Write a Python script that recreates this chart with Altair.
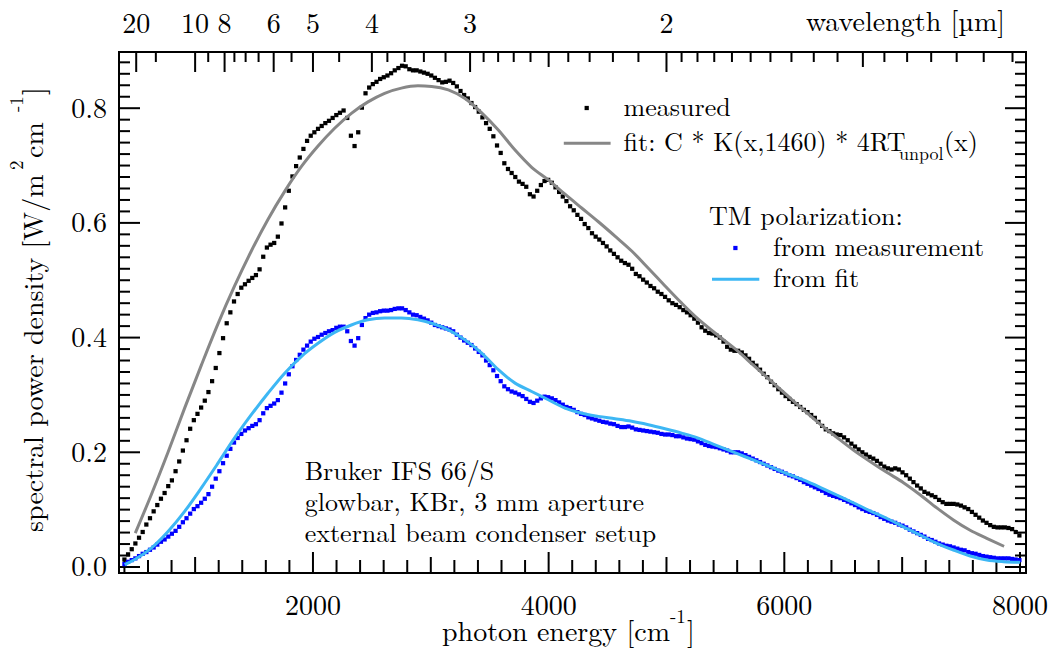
import altair as alt
import pandas as pd

# ---------------- data ----------------
# wavenumber grid of the measured spectra [cm^-1]
meas_x = list(range(400, 8000, 31))

meas_total = [
    0.013, 0.022, 0.031, 0.041, 0.051, 0.061, 0.074, 0.085, 0.097, 0.108,
    0.119, 0.129, 0.141, 0.151, 0.167, 0.184, 0.203, 0.221, 0.241, 0.256,
    0.267, 0.278, 0.290, 0.305, 0.324, 0.347, 0.373, 0.399, 0.425, 0.444,
    0.463, 0.476, 0.487, 0.493, 0.499, 0.504, 0.509, 0.519, 0.541, 0.557,
    0.562, 0.565, 0.576, 0.599, 0.627, 0.656, 0.681, 0.699, 0.714, 0.729,
    0.743, 0.752, 0.758, 0.764, 0.769, 0.774, 0.778, 0.783, 0.788, 0.792,
    0.796, 0.783, 0.752, 0.734, 0.758, 0.801, 0.826, 0.836, 0.842, 0.846,
    0.851, 0.854, 0.857, 0.861, 0.866, 0.870, 0.874, 0.873, 0.868, 0.866,
    0.866, 0.864, 0.862, 0.860, 0.857, 0.853, 0.849, 0.845, 0.846, 0.848,
    0.844, 0.838, 0.830, 0.823, 0.817, 0.809, 0.802, 0.794, 0.784, 0.774,
    0.764, 0.751, 0.735, 0.722, 0.704, 0.694, 0.687, 0.680, 0.672, 0.668,
    0.663, 0.650, 0.646, 0.656, 0.666, 0.673, 0.675, 0.670, 0.662, 0.654,
    0.646, 0.638, 0.629, 0.622, 0.614, 0.607, 0.598, 0.591, 0.582, 0.576,
    0.571, 0.565, 0.559, 0.552, 0.546, 0.540, 0.534, 0.530, 0.527, 0.520,
    0.511, 0.507, 0.501, 0.496, 0.490, 0.486, 0.480, 0.476, 0.471, 0.465,
    0.460, 0.457, 0.453, 0.448, 0.444, 0.439, 0.433, 0.426, 0.418, 0.412,
    0.408, 0.407, 0.404, 0.400, 0.393,
    0.384, 0.379, 0.377, 0.377, 0.374, 0.369, 0.363, 0.356, 0.351, 0.344,
    0.337, 0.331, 0.323, 0.317, 0.310, 0.304, 0.298, 0.293, 0.288, 0.284,
    0.279, 0.274, 0.270, 0.265, 0.260, 0.253, 0.246, 0.240, 0.237, 0.233,
    0.231, 0.230, 0.226, 0.221, 0.215, 0.210, 0.205, 0.200, 0.196, 0.192,
    0.189, 0.185, 0.180, 0.175, 0.172, 0.170, 0.172, 0.170, 0.165, 0.160,
    0.154, 0.148, 0.142, 0.137, 0.131, 0.128, 0.125, 0.122, 0.117, 0.113,
    0.110, 0.110, 0.110, 0.109, 0.107, 0.104, 0.101, 0.096, 0.091, 0.086,
    0.081, 0.077, 0.073, 0.070, 0.069, 0.069, 0.069, 0.068, 0.066, 0.061,
    0.055,
]

meas_tm = [
    0.005, 0.009, 0.012, 0.015, 0.019, 0.023, 0.026, 0.030, 0.034, 0.039,
    0.044, 0.048, 0.053, 0.058, 0.063, 0.070, 0.078, 0.085, 0.093, 0.101,
    0.106, 0.112, 0.119, 0.127, 0.140, 0.154, 0.167, 0.181, 0.194, 0.206,
    0.217, 0.225, 0.232, 0.238, 0.242, 0.246, 0.249, 0.256, 0.268, 0.277,
    0.281, 0.285, 0.291, 0.304, 0.320, 0.336, 0.350, 0.361, 0.370, 0.379,
    0.386, 0.393, 0.398, 0.401, 0.405, 0.408, 0.411, 0.413, 0.417, 0.419,
    0.419, 0.411, 0.394, 0.386, 0.399, 0.422, 0.434, 0.440, 0.443, 0.444,
    0.446, 0.447, 0.447, 0.448, 0.450, 0.451, 0.451, 0.448, 0.444, 0.440,
    0.439, 0.436, 0.433, 0.430, 0.426, 0.422, 0.420, 0.418, 0.416, 0.414,
    0.411, 0.405, 0.400, 0.395, 0.391, 0.387, 0.381, 0.375, 0.369, 0.360,
    0.352, 0.343, 0.333, 0.324, 0.315, 0.310, 0.306, 0.304, 0.301, 0.298,
    0.293, 0.288, 0.286, 0.290, 0.294, 0.297, 0.296, 0.294, 0.291, 0.287,
    0.283, 0.279, 0.277, 0.274, 0.270, 0.267, 0.265, 0.261, 0.259, 0.257,
    0.255, 0.253, 0.252, 0.250, 0.249, 0.246, 0.244, 0.244, 0.245, 0.243,
    0.240, 0.239, 0.238, 0.237, 0.236, 0.235, 0.234, 0.232, 0.231, 0.231,
    0.230, 0.228, 0.228, 0.226, 0.224, 0.223, 0.222, 0.219, 0.216, 0.213,
    0.211, 0.210, 0.209, 0.207, 0.205,
    0.203, 0.200, 0.200, 0.200, 0.198, 0.195, 0.192, 0.189, 0.186, 0.183,
    0.180, 0.177, 0.174, 0.171, 0.168, 0.166, 0.163, 0.160, 0.158, 0.155,
    0.152, 0.148, 0.145, 0.142, 0.139, 0.136, 0.133, 0.129, 0.126, 0.124,
    0.122, 0.120, 0.117, 0.114, 0.111, 0.108, 0.104, 0.101, 0.098, 0.096,
    0.094, 0.091, 0.087, 0.084, 0.081, 0.079, 0.077, 0.074, 0.072, 0.069,
    0.065, 0.062, 0.059, 0.056, 0.053, 0.049, 0.047, 0.044, 0.041, 0.039,
    0.037, 0.036, 0.034, 0.032, 0.030, 0.029, 0.026, 0.024, 0.023, 0.021,
    0.019, 0.018, 0.017, 0.016, 0.015, 0.015, 0.015, 0.015, 0.014, 0.013,
    0.012,
]

fit_total_x = [492, 628, 770, 911, 1053, 1194, 1335, 1477, 1618, 1760, 1901,
               2043, 2184, 2326, 2467, 2608, 2750, 2891, 3007, 3149, 3290,
               3432, 3573, 3715, 3856, 3997, 4139, 4280, 4422, 4563, 4705,
               4846, 4988, 5129, 5270, 5412, 5596, 5737, 5879, 6020, 6162,
               6303, 6445, 6586, 6728, 6869, 7011, 7152, 7294, 7435, 7577,
               7718, 7865]
fit_total_y = [0.059, 0.126, 0.200, 0.277, 0.352, 0.424, 0.490, 0.551, 0.606,
               0.655, 0.698, 0.734, 0.765, 0.791, 0.811, 0.826, 0.835, 0.839,
               0.838, 0.832, 0.817, 0.792, 0.762, 0.727, 0.697, 0.675, 0.650,
               0.626, 0.602, 0.577, 0.551, 0.521, 0.490, 0.460, 0.432, 0.408,
               0.378, 0.352, 0.326, 0.300, 0.274, 0.249, 0.226, 0.204, 0.184,
               0.165, 0.147, 0.126, 0.103, 0.082, 0.064, 0.050, 0.036]

fit_tm_x = [402, 487, 628, 770, 911, 1053, 1194, 1335, 1477, 1618, 1760, 1901,
            2043, 2184, 2326, 2467, 2608, 2750, 2891, 3007, 3149, 3290, 3432,
            3573, 3715, 3856, 3997, 4139, 4280, 4422, 4563, 4705, 4846, 4988,
            5129, 5270, 5412, 5596, 5737, 5879, 6020, 6162, 6303, 6445, 6586,
            6728, 6869, 7011, 7152, 7294, 7435, 7577, 7718, 7860, 8001]
fit_tm_y = [0.004, 0.013, 0.033, 0.062, 0.097, 0.138, 0.181, 0.225, 0.2655,
            0.303, 0.338, 0.367, 0.390, 0.409, 0.422, 0.431, 0.434, 0.434,
            0.431, 0.425, 0.4136, 0.396, 0.373, 0.344, 0.3206, 0.306, 0.2916,
            0.277, 0.268, 0.2626, 0.2585, 0.254, 0.248, 0.241, 0.2335, 0.2248,
            0.213, 0.198, 0.1866, 0.175, 0.163, 0.1517, 0.139, 0.1255, 0.112,
            0.098, 0.085, 0.070, 0.0558, 0.0413, 0.0296, 0.0192, 0.0122,
            0.0093, 0.0081]

# axis tick values and labels
x_major = [2000, 4000, 6000, 8000]
x_major_labels = ["2000", "4000", "6000", "8000"]
x_mid = [1000, 3000, 5000, 7000]
x_minor = [v for v in range(400, 8001, 200) if v % 1000]
y_major = [0.0, 0.2, 0.4, 0.6, 0.8]
y_major_labels = ["0.0", "0.2", "0.4", "0.6", "0.8"]
y_minor = [round(0.02 * i, 2) for i in range(45) if i % 10]
wl_major = [20, 10, 8, 6, 5, 4, 3, 2]
wl_mid = [2.5, 1.5]
wl_minor = [15, 9, 7.5, 7, 6.5, 5.5, 4.5, 3.8, 3.6, 3.4, 3.2, 2.9, 2.8, 2.7,
            2.6, 2.4, 2.3, 2.2, 2.1, 1.95, 1.9, 1.85, 1.8, 1.75, 1.7, 1.65,
            1.6, 1.55, 1.46, 1.42, 1.38, 1.34, 1.3, 1.26]

# ---------------- chart ----------------
W, H = 907, 521
FONT = "Latin Modern Roman"
FS = 26      # legend / annotation text
FA = 28      # axis labels and titles
FSUB = 19    # sub/superscripts
xs = alt.Scale(domain=[354, 8051], nice=False, zero=False)
ys = alt.Scale(domain=[-0.0105, 0.898], nice=False, zero=False)

df_total = pd.DataFrame({"x": meas_x, "y": meas_total})
df_tm = pd.DataFrame({"x": meas_x, "y": meas_tm})
df_fit = pd.DataFrame({"x": fit_total_x, "y": fit_total_y})
df_fit_tm = pd.DataFrame({"x": fit_tm_x, "y": fit_tm_y})


def X(f):
    return alt.X(f, scale=xs, axis=None)


def Y(f):
    return alt.Y(f, scale=ys, axis=None)


def xticks(vals, y0, y1, calc=None):
    c = alt.Chart(pd.DataFrame({"v": vals}))
    if calc:
        c = c.transform_calculate(p=calc)
        f = "p:Q"
    else:
        f = "v:Q"
    return c.mark_rule(color="black", strokeWidth=2).encode(
        x=X(f), y=alt.value(y0), y2=alt.value(y1))


def yticks(vals, x0, x1):
    return alt.Chart(pd.DataFrame({"v": vals})).mark_rule(
        color="black", strokeWidth=2).encode(
        y=Y("v:Q"), x=alt.value(x0), x2=alt.value(x1))


def label(text, x, y, size=FS, align="left", angle=0, baseline="alphabetic"):
    return alt.Chart(pd.DataFrame({"t": [text]})).mark_text(
        font=FONT, fontSize=size, align=align, baseline=baseline,
        angle=angle, color="black").encode(
        x=alt.value(x), y=alt.value(y), text="t:N")


ticks = [
    xticks(x_major, H, H - 21),
    xticks(x_mid, H, H - 16),
    xticks(x_minor, H, H - 13),
    yticks(y_major, 0, 21),
    yticks(y_minor, 0, 11),
    yticks(y_major, W, W - 21),
    yticks(y_minor, W, W - 11),
    xticks(wl_major, 0, 20, "10000/datum.v"),
    xticks(wl_mid, 0, 15, "10000/datum.v"),
    xticks(wl_minor, 0, 10, "10000/datum.v"),
]

bottom_labels = alt.Chart(pd.DataFrame({"v": x_major, "lab": x_major_labels})) \
    .mark_text(font=FONT, fontSize=FA, align="center", baseline="alphabetic",
               color="black") \
    .encode(x=X("v:Q"), y=alt.value(H + 42), text="lab:N")

left_labels = alt.Chart(pd.DataFrame({"v": y_major, "lab": y_major_labels})) \
    .mark_text(font=FONT, fontSize=FA, align="right", baseline="alphabetic",
               color="black", dy=9.5) \
    .encode(y=Y("v:Q"), x=alt.value(-12), text="lab:N")

top_labels = alt.Chart(pd.DataFrame({"wl": wl_major,
                                     "lab": [str(v) for v in wl_major]})) \
    .transform_calculate(p="10000/datum.wl") \
    .mark_text(font=FONT, fontSize=FA, align="center", baseline="alphabetic",
               color="black") \
    .encode(x=X("p:Q"), y=alt.value(-19), text="lab:N")

pts_total = alt.Chart(df_total).mark_square(
    size=18, color="black", opacity=1).encode(x=X("x:Q"), y=Y("y:Q"))

line_fit = alt.Chart(df_fit).mark_line(
    color="#878787", strokeWidth=3, interpolate="monotone").encode(
    x=X("x:Q"), y=Y("y:Q"))

pts_tm = alt.Chart(df_tm).mark_square(
    size=18, color="#0000ff", opacity=1).encode(x=X("x:Q"), y=Y("y:Q"))

line_fit_tm = alt.Chart(df_fit_tm).mark_line(
    color="#3db7f4", strokeWidth=3, interpolate="monotone").encode(
    x=X("x:Q"), y=Y("y:Q"))

one = pd.DataFrame({"a": [0]})
legend = [
    alt.Chart(one).mark_square(size=18, color="black", opacity=1).encode(
        x=alt.value(467.7), y=alt.value(56)),
    alt.Chart(one).mark_rule(color="#878787", strokeWidth=3).encode(
        x=alt.value(444.8), x2=alt.value(491.6), y=alt.value(91.3)),
    alt.Chart(one).mark_square(size=18, color="#0000ff", opacity=1).encode(
        x=alt.value(616.4), y=alt.value(196)),
    alt.Chart(one).mark_rule(color="#3db7f4", strokeWidth=3).encode(
        x=alt.value(593), x2=alt.value(640.3), y=alt.value(227.3)),
    label("measured", 504.6, 64),
    label("fit: C * K(x,1460) * 4RT", 504.6, 98.7),
    label("unpol", 780, 108, size=18),
    label("(x)", 825, 98.7),
    label("TM polarization:", 590, 173),
    label("from measurement", 654, 204),
    label("from fit", 654, 234.7),
]

texts = [
    label("Bruker IFS 66/S", 185.7, 428),
    label("glowbar, KBr, 3 mm aperture", 185.7, 459),
    label("external beam condenser setup", 185.7, 490),
    # x-axis title: photon energy [cm^-1]
    label("photon energy [cm", 323, 589, size=FA),
    label("-1", 551, 571, size=FSUB),
    label("]", 568, 589, size=FA),
    # y-axis title: spectral power density [W/m^2 cm^-1] (rotated)
    label("spectral power density [W/m", -76, 480, size=FA, angle=270),
    label("2", -96, 118, size=FSUB, angle=270),
    label(" cm", -76, 106, size=FA, angle=270),
    label("-1", -96, 60, size=FSUB, angle=270),
    label("]", -76, 43, size=FA, angle=270),
    # top axis title
    label("wavelength [\u00b5m]", 886, -21, size=FA, align="right"),
]

chart = alt.layer(
    pts_total, *ticks, line_fit, pts_tm, line_fit_tm,
    bottom_labels, left_labels, top_labels, *legend, *texts
).properties(
    width=W, height=H,
    autosize=alt.AutoSizeParams(type="none"),
    padding={"left": 119, "top": 52, "right": 30, "bottom": 82},
).configure_view(stroke="black", strokeWidth=2)

chart.save("out.html", embed_options={"renderer": "svg", "actions": False})
